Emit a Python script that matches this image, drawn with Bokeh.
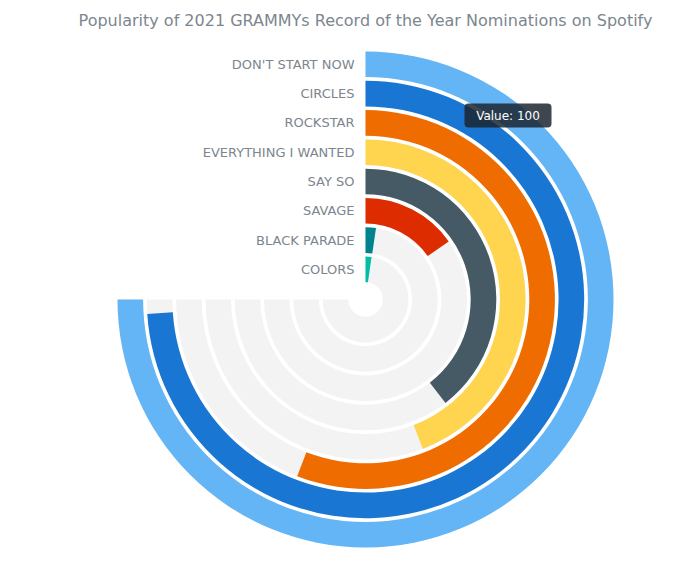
import math
from bokeh.plotting import figure
from bokeh.models import Range1d
from bokeh.core.properties import value
from bokeh.embed import file_html
from bokeh.resources import INLINE

title_text = "Popularity of 2021 GRAMMYs Record of the Year Nominations on Spotify"
songs = ["DON'T START NOW", "CIRCLES", "ROCKSTAR", "EVERYTHING I WANTED",
         "SAY SO", "SAVAGE", "BLACK PARADE", "COLORS"]
popularity = [100, 98.6, 74.5, 58.9, 52.7, 20.4, 3.1, 3.0]
bar_colors = ["#64b5f6", "#1976d2", "#ef6c00", "#ffd54f",
              "#455a64", "#dd2c00", "#00838f", "#00bfa5"]
scale_max = 100
tooltip_text = "Value: 100"

W, H = 683, 552
p = figure(width=W, height=H, output_backend="svg", toolbar_location=None,
           x_range=Range1d(0, W), y_range=Range1d(-H, 0),
           min_border=0, outline_line_color=None)
p.axis.visible = False
p.grid.visible = False
p.background_fill_color = "white"
p.border_fill_color = "white"

cx, cy = 365, -299
sweep = 270.0
r_outer0 = 248.0
step = 29.3
bar_w = 25.6

outer = [r_outer0 - step * i for i in range(len(songs))]
inner = [r - bar_w for r in outer]
mid = [(a + b) / 2 for a, b in zip(outer, inner)]
start = math.pi / 2
full_end = [start - math.radians(sweep)] * len(songs)
ends = [start - math.radians(sweep * v / scale_max) for v in popularity]

# background tracks
p.annular_wedge(x=[cx] * len(songs), y=[cy] * len(songs), inner_radius=inner,
                outer_radius=outer, start_angle=[start] * len(songs),
                end_angle=full_end, direction="clock",
                fill_color="#f3f3f3", line_color=None)
# value bars
p.annular_wedge(x=[cx] * len(songs), y=[cy] * len(songs), inner_radius=inner,
                outer_radius=outer, start_angle=[start] * len(songs),
                end_angle=ends, direction="clock",
                fill_color=bar_colors, line_color=None)

# category labels
p.text(x=[354] * len(songs), y=[cy + m for m in mid], text=songs,
       text_align="right", text_baseline="middle",
       text_font=value("DejaVu Sans"), text_font_size="13px",
       text_color="#7c868e")

# title
p.text(x=[365], y=[-20], text=[title_text], text_align="center",
       text_baseline="middle", text_font=value("DejaVu Sans"),
       text_font_size="16px", text_color="#7c868e")

# tooltip
tx, ty, tw, th = 507.5, -115, 87, 24
p.quad(left=[tx - tw / 2], right=[tx + tw / 2], top=[ty + th / 2],
       bottom=[ty - th / 2], fill_color="#1c2630", fill_alpha=0.85,
       line_color=None, border_radius=4)
p.text(x=[tx], y=[ty], text=[tooltip_text], text_align="center",
       text_baseline="middle", text_font=value("DejaVu Sans"),
       text_font_size="12px", text_color="white")

open("out.html", "w").write(file_html(p, INLINE))
